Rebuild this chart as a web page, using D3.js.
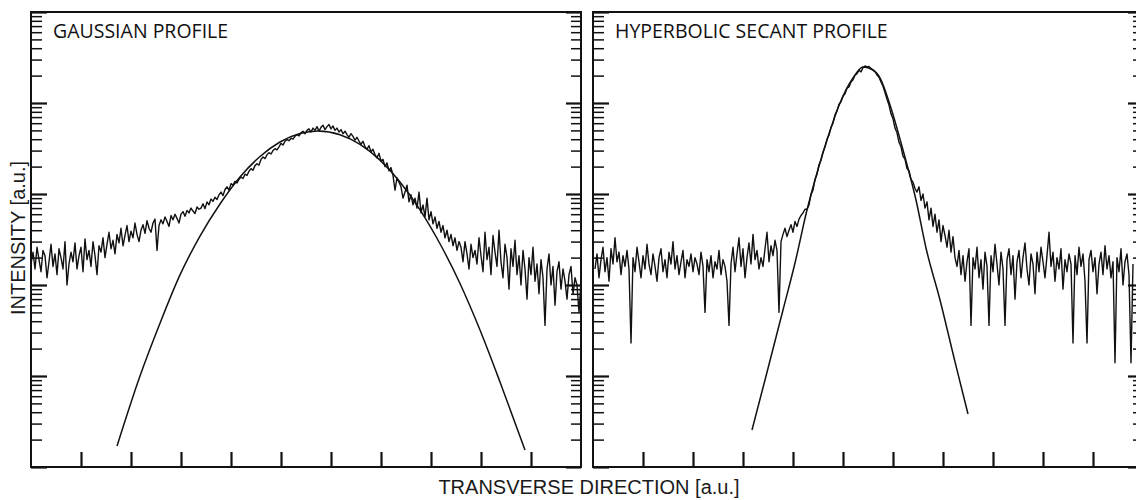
<!DOCTYPE html>
<html>
<head>
<meta charset="utf-8">
<script src="https://cdn.jsdelivr.net/npm/d3@7/dist/d3.min.js"></script>
<style>
  body { margin: 0; background: #fff; }
  #chart { width: 1136px; height: 500px; overflow: hidden; }
  .frame { fill: none; stroke: #111; stroke-width: 2; }
  .trace { fill: none; stroke: #111; stroke-width: 1.4; stroke-linejoin: round; }
  .fit { fill: none; stroke: #111; stroke-width: 1.5; }
  .ticks path { display: none; }
  .ticks line { stroke: #111; stroke-width: 2.2; }
  .ticks.minor line { stroke-width: 1.5; }
  .title { font-family: "Open Sans", sans-serif; font-size: 19.5px; fill: #111; }
  .axis-label { font-family: "Liberation Sans", Arial, sans-serif; font-size: 20px; fill: #1a1a1a; }
</style>
</head>
<body>
<div id="chart"></div>
<script>
//Datos (intensidad en u.a., eje log)
const panelTitles = ['GAUSSIAN PROFILE', 'HYPERBOLIC SECANT PROFILE'];
const xTicks = [1, 2, 3, 4, 5, 6, 7, 8, 9, 10];
const yDecades = [1, 10, 100, 1000, 10000, 100000];

//Muestreo de la medida (posicion inicial y paso)
const SAMPLE_STEP = 0.04;
const gaussStart = 0;
const sechStart = 0.04;

const gaussMeasured = [
  170, 230, 150, 260, 190, 140, 240, 210, 120, 180,
  280, 160, 220, 130, 250, 200, 150, 300, 100, 170,
  230, 180, 290, 150, 210, 260, 140, 320, 190, 240,
  160, 300, 210, 130, 270,
  230, 330, 200, 280, 380, 250, 310, 220, 360, 290,
  420, 270, 350, 450, 300, 390, 330, 480, 360, 300,
  400, 460, 370, 510, 420, 380, 480, 530, 240, 450,
  520, 470, 560, 500, 440, 580, 520, 600, 540, 480,
  600, 640, 570, 660, 620, 700, 650, 610, 720, 680,
  700, 780, 690, 820, 760, 880, 830, 920, 870, 980,
  1050, 960, 1120, 1200, 1100, 1300, 1250, 1380, 1320, 1450,
  1540, 1480, 1650, 1600, 1780, 1900, 1820, 2050, 2150, 2080,
  2400, 2550, 2450, 2700, 2850, 2750, 3000, 3150, 3050, 3300,
  3600, 3450, 3800, 3950, 3850, 4100, 4000, 4300, 4500, 4350,
  4700, 4900, 4600, 5000, 5200, 4800, 5300, 5000, 5500, 4900,
  5400, 5700, 5100, 5500, 5800, 5200, 5600, 5000, 5300, 4800,
  5100, 4600, 4900, 4500, 4200, 4600, 4300, 3900, 4200, 3800,
  3500, 3800, 3300, 3100, 3400, 2900, 3100, 2700, 2500, 2800,
  2300, 2400, 2000, 2200, 1800, 1950, 1600, 1100, 1500, 1350,
  1200, 900, 1050, 1250, 820, 980, 760, 900, 700, 1050,
  620, 760, 560, 900, 520, 640, 470, 560, 420, 500,
  380, 450, 330, 400, 300, 360, 270, 330, 240, 300,
  260, 180, 300, 220, 150, 280, 200, 240, 170, 330,
  210, 140, 380, 190, 260, 130, 350, 230, 160, 400,
  180, 120, 280, 200, 90, 250, 160, 310, 130, 210,
  100, 240, 150, 70, 200, 130, 260, 110, 170, 80,
  190, 120, 36, 150, 220, 100, 160, 60, 140, 180,
  90, 150, 110, 70, 130, 160, 80, 120, 100, 50, 110
];

const gaussFitX = [1.72, 2.18, 2.58, 2.98, 3.38, 3.78, 4.18, 4.58, 4.98, 5.38, 5.74,
  6.18, 6.58, 6.98, 7.38, 7.78, 8.18, 8.58, 8.98, 9.38, 9.88];
const gaussFitY = [1.7, 10, 38, 129, 345, 777, 1538, 2583, 3727, 4620, 4925,
  4485, 3508, 2358, 1358, 670, 284, 104, 32, 8.6, 1.54];

const sechMeasured = [
  150, 220, 120, 190, 260, 140, 200, 110, 250, 170,
  330, 180, 230, 130, 210, 160, 240, 150, 23, 200,
  140, 260, 180, 120, 210, 150, 280, 170, 130, 220,
  160, 110, 200, 250, 140, 190, 120, 230, 170, 300,
  150, 210, 130, 180, 240, 120, 190, 160, 220, 140,
  200, 170, 130, 230, 160, 50, 190, 140, 210, 120,
  180, 150, 240, 130, 190, 160, 110, 36, 170, 260,
  140, 220, 330, 160, 250, 120, 200, 290, 170, 360,
  190, 240, 150,
  200, 160, 250, 380, 180, 270, 210, 310, 240, 50,
  300, 360, 420, 340, 400, 460, 380, 500, 440, 530,
  580, 620, 680,
  680, 760, 990, 1100, 1450, 1650, 2100, 2350, 2900, 3300,
  4000, 4450, 5400, 6000, 7400, 8200, 9700, 10300, 11900, 12600,
  14600, 15000, 17000, 18000, 20200, 21000, 22900, 22000, 24500,
  25500, 24900, 25200, 24000, 23000, 22200, 20300, 19200, 17000, 15300,
  13000, 11000, 9500, 7600, 6700, 5300, 4700, 3700, 3300, 2600,
  2400, 1900, 1800, 1450, 1350, 1150, 1050, 1200, 850, 1000,
  700,
  820, 520, 700, 440, 600, 380, 520, 300, 450, 350,
  260, 400, 230, 340, 200,
  160, 240, 130, 210, 110, 180, 250, 36, 200, 150,
  260, 120, 190, 90, 230, 160, 36, 210, 140, 280,
  170, 100, 230, 150, 36, 190, 250, 130, 210, 70,
  180, 240, 120, 200, 290, 150, 100, 220, 170, 80,
  230, 140, 260, 180, 120, 210, 380, 160, 230, 110,
  200, 150, 250, 90, 190, 140, 220, 170, 23, 210,
  130, 260, 160, 220, 110, 23, 190, 240, 140, 200,
  80, 170, 230, 130, 270, 150, 210, 120, 180, 14,
  200, 140, 250, 100, 180, 220, 130, 14, 170
];

const sechFitX = [3.18, 3.44, 3.80, 4.04, 4.28, 4.48, 4.68, 4.94, 5.20, 5.40,
  5.60, 5.74, 5.94, 6.20, 6.46, 6.66, 6.94, 7.24, 7.50];
const sechFitY = [2.55, 9.04, 53.1, 174.5, 667, 1702, 3920, 10000, 18830, 24880,
  23050, 18830, 9510, 3045, 859, 255, 68.4, 14.3, 3.82];

let plotTop = 12, plotBottom = 467;
let panels = [
  { left: 31, right: 581, title: panelTitles[0], start: gaussStart, measured: gaussMeasured, fitX: gaussFitX, fitY: gaussFitY },
  { left: 593, right: 1143, title: panelTitles[1], start: sechStart, measured: sechMeasured, fitX: sechFitX, fitY: sechFitY }
];

let svg = d3.select('#chart')
  .append('svg')
    .attr('width', 1136)
    .attr('height', 500);

let y = d3.scaleLog()
  .domain([1, 100000])
  .range([plotBottom, plotTop]);

let minorTicks = [];
yDecades.slice(0, -1).forEach(function(d) {
  for (let k = 2; k < 10; k++) minorTicks.push(d * k);
});

panels.forEach(function(p) {
  let x = d3.scaleLinear()
    .domain([0, 11])
    .range([p.left, p.right]);

  let g = svg.append('g');

  //Ticks eje X (hacia dentro)
  g.append('g')
    .attr('class', 'ticks')
    .attr('transform', 'translate(0,' + plotBottom + ')')
    .call(d3.axisTop(x).tickValues(xTicks).tickSize(15).tickFormat(''));

  //Ticks eje Y a ambos lados
  g.append('g')
    .attr('class', 'ticks')
    .attr('transform', 'translate(' + p.left + ',0)')
    .call(d3.axisRight(y).tickValues(yDecades).tickSize(16).tickFormat(''));
  g.append('g')
    .attr('class', 'ticks minor')
    .attr('transform', 'translate(' + p.left + ',0)')
    .call(d3.axisRight(y).tickValues(minorTicks).tickSize(11).tickFormat(''));
  g.append('g')
    .attr('class', 'ticks')
    .attr('transform', 'translate(' + p.right + ',0)')
    .call(d3.axisLeft(y).tickValues(yDecades).tickSize(15).tickFormat(''));
  g.append('g')
    .attr('class', 'ticks minor')
    .attr('transform', 'translate(' + p.right + ',0)')
    .call(d3.axisLeft(y).tickValues(minorTicks).tickSize(10).tickFormat(''));

  //Medida
  let pts = p.measured.map(function(v, i) { return [p.start + i * SAMPLE_STEP, v]; });
  g.append('path')
    .datum(pts)
    .attr('class', 'trace')
    .attr('d', d3.line().x(d => x(d[0])).y(d => y(d[1])));

  //Ajuste
  let fit = p.fitX.map(function(v, i) { return [v, p.fitY[i]]; });
  g.append('path')
    .datum(fit)
    .attr('class', 'fit')
    .attr('d', d3.line().curve(d3.curveMonotoneX).x(d => x(d[0])).y(d => y(d[1])));

  //Marco
  g.append('rect')
    .attr('class', 'frame')
    .attr('x', p.left)
    .attr('y', plotTop)
    .attr('width', p.right - p.left)
    .attr('height', plotBottom - plotTop);

  g.append('text')
    .attr('class', 'title')
    .attr('x', p.left + 22)
    .attr('y', 38)
    .text(p.title);
});

svg.append('text')
  .attr('class', 'axis-label')
  .attr('text-anchor', 'middle')
  .attr('transform', 'translate(25,238) rotate(-90)')
  .text('INTENSITY [a.u.]');

svg.append('text')
  .attr('class', 'axis-label')
  .attr('text-anchor', 'middle')
  .attr('x', 589)
  .attr('y', 494)
  .text('TRANSVERSE DIRECTION [a.u.]');
</script>
</body>
</html>
